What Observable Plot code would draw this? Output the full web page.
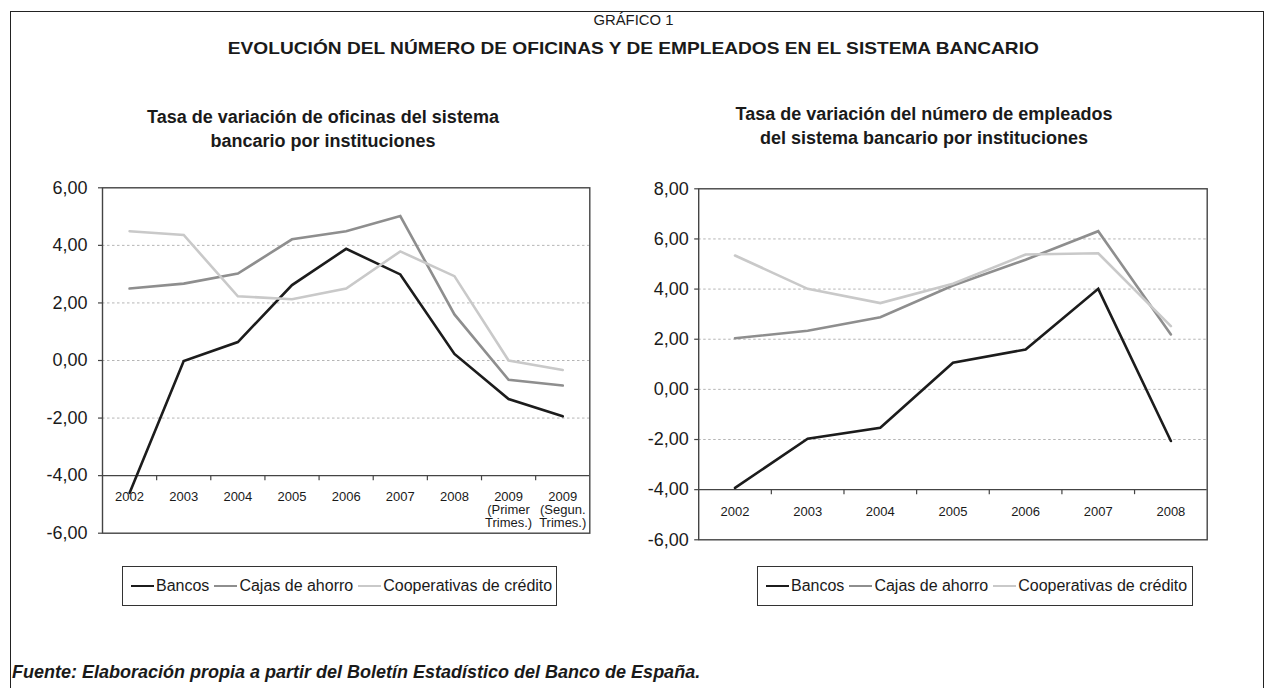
<!DOCTYPE html>
<html><head><meta charset="utf-8">
<script src="https://cdn.jsdelivr.net/npm/d3@7"></script>
<script src="https://cdn.jsdelivr.net/npm/@observablehq/plot@0.6"></script>
<style>
body{margin:0;background:#fff;font-family:"Liberation Sans",Arial,Helvetica,sans-serif;color:#1a1a1a}
#root{position:relative;width:1266px;height:688px;overflow:hidden;background:#fff}
.abs{position:absolute;white-space:nowrap}
.frame{position:absolute;left:10px;top:11px;width:1252px;height:700px;border-left:1.3px solid #222;border-top:1.3px solid #222;border-right:1.3px solid #222}
.sub{font-weight:bold;font-size:18px;text-align:center;line-height:24px}
.legend{position:absolute;border:1.3px solid #333;height:40px;display:flex;align-items:center;font-size:16px;box-sizing:border-box;padding-left:8px;white-space:nowrap;overflow:visible}
.legend .item{display:flex;align-items:center;margin-right:5px;flex-shrink:0;white-space:nowrap}
.legend .sw{display:inline-block;width:23px;height:2.6px;margin-right:2px;flex-shrink:0}
</style></head><body><div id="root"></div>
<script>
// ---- data ----
const seriesNames = ["Bancos", "Cajas de ahorro", "Cooperativas de crédito"];
const seriesColors = ["#1c1c1c", "#8e8e8e", "#c9c9c9"];

const officeCategories = ["2002", "2003", "2004", "2005", "2006", "2007", "2008", "2009 T1", "2009 T2"];
const officeTickLabels = ["2002", "2003", "2004", "2005", "2006", "2007", "2008", "2009\n(Primer\nTrimes.)", "2009\n(Segun.\nTrimes.)"];
const officeBancos = [-4.6, -0.02, 0.64, 2.62, 3.88, 2.99, 0.23, -1.34, -1.94];
const officeCajas = [2.50, 2.67, 3.02, 4.21, 4.49, 5.02, 1.60, -0.67, -0.87];
const officeCooperativas = [4.49, 4.36, 2.23, 2.13, 2.50, 3.79, 2.93, 0.00, -0.33];

const employeeCategories = ["2002", "2003", "2004", "2005", "2006", "2007", "2008"];
const employeeTickLabels = ["2002", "2003", "2004", "2005", "2006", "2007", "2008"];
const employeeBancos = [-3.93, -1.97, -1.53, 1.06, 1.59, 4.01, -2.06];
const employeeCajas = [2.04, 2.34, 2.88, 4.14, 5.17, 6.31, 2.19];
const employeeCooperativas = [5.34, 4.01, 3.44, 4.21, 5.38, 5.43, 2.52];

const officeYTicks = [-6, -4, -2, 0, 2, 4, 6];
const employeeYTicks = [-6, -4, -2, 0, 2, 4, 6, 8];

// ---- helpers ----
const fmt = d => d.toFixed(2).replace(".", ",");
function longTable(cats, arrays) {
  const rows = [];
  arrays.forEach((arr, s) => arr.forEach((v, i) => rows.push({i, cat: cats[i], value: v, series: seriesNames[s]})));
  return rows;
}
function makeChart(opts) {
  const {cats, labels, arrays, yTicks, gridTicks, axisAt, width, height, margins, labelDy, yFont} = opts;
  const n = cats.length;
  const data = longTable(cats, arrays);
  const labelRows = labels.map((t, i) => ({i, t}));
  const boundaries = d3.range(1, n).map(i => i - 0.5);
  return Plot.plot({
    width, height,
    marginLeft: margins[3], marginRight: margins[1], marginTop: margins[0], marginBottom: margins[2],
    style: {fontFamily: '"Liberation Sans", Arial, sans-serif', color: "#1a1a1a", background: "transparent", overflow: "visible"},
    x: {type: "linear", domain: [-0.5, n - 0.5], axis: null},
    y: {domain: [yTicks[0], yTicks[yTicks.length - 1]], axis: null},
    color: {domain: seriesNames, range: seriesColors},
    marks: [
      Plot.ruleY(gridTicks, {stroke: "#b5b5b5", strokeWidth: 1, strokeDasharray: "2.5,2.5"}),
      Plot.ruleY([axisAt], {stroke: "#444", strokeWidth: 1.4}),
      Plot.ruleX(boundaries, {y1: axisAt, y2: axisAt - (yTicks[1] - yTicks[0]) * opts.tickFrac, stroke: "#444", strokeWidth: 1.2}),
      Plot.frame({stroke: "#444", strokeWidth: 1.4}),
      Plot.axisY({ticks: yTicks, tickFormat: fmt, tickSize: 4, tickPadding: opts.tickPadding, fontSize: yFont, stroke: "#444", strokeWidth: 1.2, label: null}),
      Plot.line(data, {x: "i", y: "value", z: "series", stroke: "series", strokeWidth: 2.6, strokeLinejoin: "miter", strokeMiterlimit: 4}),
      Plot.text(labelRows, {x: "i", y: axisAt, text: "t", dy: labelDy, lineAnchor: "top", fontSize: 13, lineHeight: 1.0, fill: "#1a1a1a"})
    ]
  });
}

const root = document.getElementById("root");
function addDiv(cls, style, html) {
  const d = document.createElement("div");
  d.className = cls; Object.assign(d.style, style); d.innerHTML = html; root.appendChild(d); return d;
}

addDiv("frame", {}, "");

// titles
const t1 = addDiv("abs", {left: "0px", width: "1266px", top: "11px", textAlign: "center", fontSize: "15px"}, "GRÁFICO 1");
const t2 = addDiv("abs", {left: "0px", width: "1266px", top: "39px", textAlign: "center", fontSize: "17px", fontWeight: "bold"}, "EVOLUCIÓN DEL NÚMERO DE OFICINAS Y DE EMPLEADOS EN EL SISTEMA BANCARIO");

addDiv("abs sub", {left: "123px", width: "400px", top: "105px"}, "Tasa de variación de oficinas del sistema<br>bancario por instituciones");
addDiv("abs sub", {left: "724px", width: "400px", top: "102px"}, "Tasa de variación del número de empleados<br>del sistema bancario por instituciones");

// charts
const left = makeChart({
  cats: officeCategories, labels: officeTickLabels,
  arrays: [officeBancos, officeCajas, officeCooperativas],
  yTicks: officeYTicks, gridTicks: [-2, 0, 2, 4], axisAt: -4,
  width: 600, height: 380, margins: [17.3, 10.7, 17.3, 102],
  labelDy: 16.5, yFont: 18, tickPadding: 11, tickFrac: 0.09
});
Object.assign(left.style, {position: "absolute", left: "0px", top: "170px"});
root.appendChild(left);

const right = makeChart({
  cats: employeeCategories, labels: employeeTickLabels,
  arrays: [employeeBancos, employeeCajas, employeeCooperativas],
  yTicks: employeeYTicks, gridTicks: [-2, 0, 2, 4, 6], axisAt: -4,
  width: 640, height: 390, margins: [18.3, 33.3, 20.7, 98.2],
  labelDy: 17, yFont: 18, tickPadding: 6, tickFrac: 0.1
});
Object.assign(right.style, {position: "absolute", left: "600px", top: "170px"});
root.appendChild(right);

// legends
function legend(x, y, w) {
  const html = seriesNames.map((s, k) =>
    `<span class="item"><span class="sw" style="background:${seriesColors[k]}"></span><span>${s}</span></span>`).join("");
  return addDiv("legend", {left: x + "px", top: y + "px", width: w + "px"}, html);
}
legend(122, 566, 435);
legend(757, 566, 436);

// caption
addDiv("abs", {left: "12px", top: "662px", fontSize: "18px", fontWeight: "bold", fontStyle: "italic"}, "Fuente: Elaboración propia a partir del Boletín Estadístico del Banco de España.");

// fit condensed title widths
function fit(el, target) {
  const span = document.createElement("span"); span.innerHTML = el.innerHTML; el.innerHTML = ""; el.appendChild(span);
  span.style.display = "inline-block";
  const w = span.getBoundingClientRect().width;
  span.style.transform = `scaleX(${target / w})`;
}
fit(t1, 80);
fit(t2, 811);
</script></body></html>
